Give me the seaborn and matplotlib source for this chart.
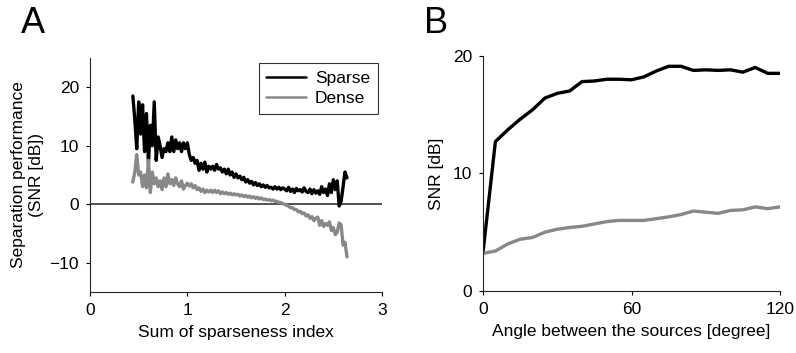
import numpy as np
import pandas as pd
import matplotlib
matplotlib.use("Agg")
import matplotlib.pyplot as plt
import seaborn as sns

# panel A: SNR vs sum of sparseness index (sampled every 0.02 from 0.44)
sparse_snr = [18.5, 14.5, 9.5, 17.5, 12.0, 17.0, 9.0, 15.5, 7.0, 13.5,
              10.0, 17.5, 7.5, 11.5, 10.0, 8.0, 9.5, 9.0, 10.5, 9.0,
              11.5, 9.0, 11.0, 9.5, 10.5, 9.0, 10.5, 9.5, 10.5, 8.5,
              7.5, 8.0, 7.0, 7.5, 5.8, 7.0, 6.0, 7.2, 5.5, 6.5,
              6.0, 6.5, 5.8, 6.8, 6.0, 6.2, 5.5, 6.0, 5.2, 6.0,
              5.0, 5.5, 4.6, 5.2, 4.5, 4.8, 4.2, 4.6, 3.8, 4.2,
              3.6, 3.9, 3.3, 3.7, 3.2, 3.5, 3.0, 3.3, 2.9, 3.2,
              2.8, 2.9, 2.6, 3.0, 2.6, 2.9, 2.5, 2.8, 2.6, 2.3,
              2.9, 2.2, 2.6, 2.0, 2.7, 2.3, 2.5, 2.1, 2.8, 2.2,
              2.0, 2.6, 1.8, 2.5, 1.9, 2.3, 1.7, 3.0, 2.0, 2.6,
              1.5, 3.5, 2.0, 4.2, 2.5, 4.0, -0.3, 0.5, 3.0, 5.5, 4.5]
dense_snr = [3.8, 5.5, 8.5, 5.0, 5.5, 3.0, 5.0, 2.8, 7.5, 2.0,
             5.5, 3.5, 4.5, 3.0, 4.0, 2.5, 4.5, 3.0, 5.2, 3.5,
             4.2, 3.2, 4.5, 3.5, 3.0, 4.0, 2.6, 3.2, 3.6, 3.1,
             3.5, 2.8, 3.2, 2.5, 2.8, 2.2, 2.6, 2.0, 2.4, 2.1,
             2.4, 2.0, 2.4, 2.0, 2.3, 1.8, 2.1, 1.8, 2.0, 1.7,
             1.9, 1.6, 1.8, 1.6, 1.7, 1.4, 1.6, 1.3, 1.5, 1.2,
             1.4, 1.1, 1.3, 1.0, 1.2, 0.9, 1.1, 0.8, 0.9, 0.7,
             0.8, 0.6, 0.7, 0.5, 0.5, 0.3, 0.3, 0.1, 0.0, -0.2,
             -0.3, -0.6, -0.6, -0.9, -0.9, -1.3, -1.2, -1.6, -1.5, -2.0,
             -1.8, -2.4, -2.1, -2.8, -2.4, -2.2, -3.6, -2.8, -3.8, -3.3,
             -3.6, -3.0, -4.5, -4.0, -5.2, -4.8, -3.2, -3.5, -7.0, -6.5, -9.0]
sparseness = np.round(0.44 + 0.02 * np.arange(len(sparse_snr)), 2)

# panel B: SNR vs angle between sources
angle = [0, 5, 10, 15, 20, 25, 30, 35, 40, 45, 50, 55, 60,
         65, 70, 75, 80, 85, 90, 95, 100, 105, 110, 115, 120]
angle_sparse = [3.3, 12.7, 13.7, 14.6, 15.4, 16.4, 16.8, 17.0, 17.8, 17.85, 18.0, 18.0, 17.95,
                18.2, 18.7, 19.1, 19.1, 18.75, 18.8, 18.75, 18.8, 18.6, 19.0, 18.5, 18.5]
angle_dense = [3.2, 3.4, 4.0, 4.4, 4.55, 5.0, 5.25, 5.4, 5.5, 5.7, 5.9, 6.0, 6.0,
               6.0, 6.15, 6.3, 6.5, 6.8, 6.7, 6.6, 6.85, 6.9, 7.15, 7.0, 7.15]

df_a = pd.DataFrame({'x': np.concatenate([sparseness, sparseness]),
                     'snr': sparse_snr + dense_snr,
                     'kind': ['Sparse'] * len(sparse_snr) + ['Dense'] * len(dense_snr)})
df_b = pd.DataFrame({'x': angle + angle,
                     'snr': angle_sparse + angle_dense,
                     'kind': ['Sparse'] * len(angle) + ['Dense'] * len(angle)})

sns.set_style('ticks')
plt.rcParams['font.family'] = ['Liberation Sans', 'DejaVu Sans']
plt.rcParams['text.color'] = 'black'
plt.rcParams['axes.labelcolor'] = 'black'
plt.rcParams['xtick.color'] = 'black'
plt.rcParams['ytick.color'] = 'black'
fs = 12.5

pal = {'Sparse': '#000000', 'Dense': '#888888'}

fig = plt.figure(figsize=(7.96, 3.53), dpi=100)
ax1 = fig.add_axes([0.1131, 0.1728, 0.3668, 0.6629])
ax2 = fig.add_axes([0.6068, 0.1756, 0.3731, 0.6666])

ax1.axhline(0, color='#444444', lw=1.3, zorder=1)
sns.lineplot(data=df_a, x='x', y='snr', hue='kind', palette=pal, lw=2.4, ax=ax1, zorder=3)
ax1.set_xlim(0, 3)
ax1.set_ylim(-15, 25)
ax1.set_xticks([0, 1, 2, 3])
ax1.set_yticks([-10, 0, 10, 20])
ax1.set_xlabel('Sum of sparseness index', fontsize=fs, labelpad=5)
ax1.set_ylabel('Separation performance\n(SNR [dB])', fontsize=fs, labelpad=4)
leg = ax1.legend(loc='upper right', frameon=True, fancybox=False, fontsize=fs,
                 handlelength=2.3, borderpad=0.45, labelspacing=0.3,
                 handletextpad=0.5, borderaxespad=0,
                 bbox_to_anchor=(0.986, 0.979))
leg.get_frame().set_edgecolor('black')
leg.get_frame().set_linewidth(0.8)
for h in leg.get_lines():
    h.set_linewidth(1.8)

sns.lineplot(data=df_b, x='x', y='snr', hue='kind', palette=pal, lw=2.4, ax=ax2, legend=False)
ax2.set_xlim(0, 120)
ax2.set_ylim(0, 20)
ax2.set_xticks([0, 60, 120])
ax2.set_yticks([0, 10, 20])
ax2.set_xlabel('Angle between the sources [degree]', fontsize=fs, labelpad=5)
ax2.set_ylabel('SNR [dB]', fontsize=fs, labelpad=6)

for ax in (ax1, ax2):
    sns.despine(ax=ax)
    ax.spines['left'].set_linewidth(0.8)
    ax.spines['bottom'].set_linewidth(0.8)
    ax.spines['left'].set_color('#222222')
    ax.spines['bottom'].set_color('#222222')
    ax.tick_params(direction='out', length=3, width=0.8, labelsize=fs, pad=5)

fig.text(21 / 796, 1 - 33 / 353, 'A', fontsize=26, va='baseline')
fig.text(424 / 796, 1 - 33 / 353, 'B', fontsize=26, va='baseline')

fig.savefig('out.png', dpi=100)
